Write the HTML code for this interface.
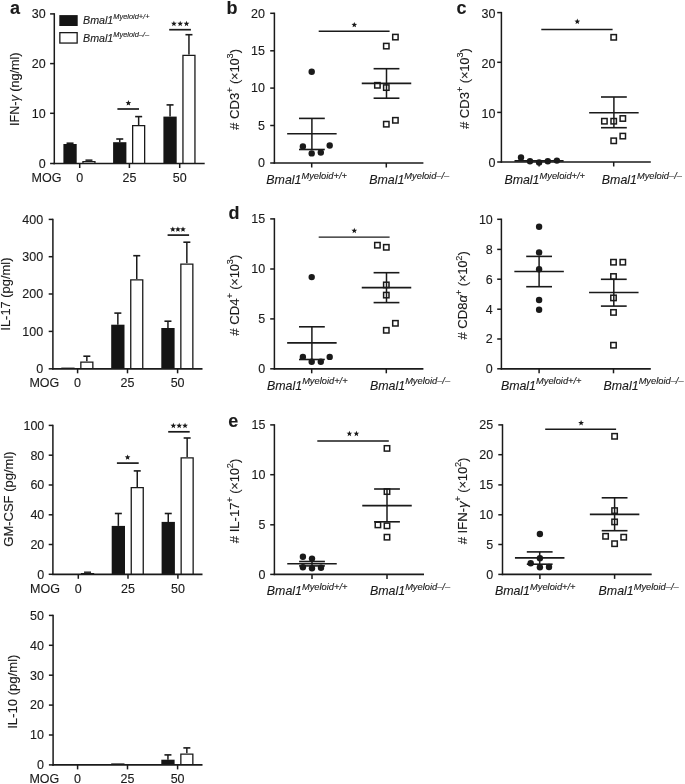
<!DOCTYPE html>
<html><head><meta charset="utf-8"><style>
html,body{margin:0;padding:0;background:#fff;}
body{width:685px;height:784px;overflow:hidden;}
svg{display:block;will-change:transform;}
text{font-family:"Liberation Sans",sans-serif;fill:#1a1a1a;stroke:#1a1a1a;stroke-width:0.12px;}
</style></head><body>
<svg width="685" height="784" viewBox="0 0 685 784">
<rect width="685" height="784" fill="#fff"/>
<g stroke="#1a1a1a" fill="none" stroke-linecap="butt">
<text x="10.10" y="13.90" font-size="18" text-anchor="start" font-weight="bold">a</text>
<line x1="70.05" y1="144.00" x2="70.05" y2="143.20" stroke-width="1.5"/>
<line x1="66.55" y1="143.20" x2="73.55" y2="143.20" stroke-width="1.6"/>
<rect x="63.40" y="144.00" width="13.30" height="19.50" fill="#151515" stroke="none"/>
<line x1="88.95" y1="160.90" x2="88.95" y2="160.20" stroke-width="1.5"/>
<line x1="85.45" y1="160.20" x2="92.45" y2="160.20" stroke-width="1.6"/>
<rect x="82.30" y="160.90" width="13.30" height="2.60" fill="#fff" stroke="none"/>
<path d="M82.95,163.50V161.55H94.95V163.50" fill="none" stroke="#1a1a1a" stroke-width="1.3"/>
<line x1="119.75" y1="142.20" x2="119.75" y2="139.00" stroke-width="1.5"/>
<line x1="116.25" y1="139.00" x2="123.25" y2="139.00" stroke-width="1.6"/>
<rect x="113.10" y="142.20" width="13.30" height="21.30" fill="#151515" stroke="none"/>
<line x1="138.65" y1="125.00" x2="138.65" y2="116.60" stroke-width="1.5"/>
<line x1="135.15" y1="116.60" x2="142.15" y2="116.60" stroke-width="1.6"/>
<rect x="132.00" y="125.00" width="13.30" height="38.50" fill="#fff" stroke="none"/>
<path d="M132.65,163.50V125.65H144.65V163.50" fill="none" stroke="#1a1a1a" stroke-width="1.3"/>
<line x1="170.05" y1="116.60" x2="170.05" y2="104.90" stroke-width="1.5"/>
<line x1="166.55" y1="104.90" x2="173.55" y2="104.90" stroke-width="1.6"/>
<rect x="163.40" y="116.60" width="13.30" height="46.90" fill="#151515" stroke="none"/>
<line x1="188.95" y1="54.80" x2="188.95" y2="34.70" stroke-width="1.5"/>
<line x1="185.45" y1="34.70" x2="192.45" y2="34.70" stroke-width="1.6"/>
<rect x="182.30" y="54.80" width="13.30" height="108.70" fill="#fff" stroke="none"/>
<path d="M182.95,163.50V55.45H194.95V163.50" fill="none" stroke="#1a1a1a" stroke-width="1.3"/>
<line x1="54.30" y1="13.20" x2="54.30" y2="164.25" stroke-width="1.5"/>
<line x1="50.10" y1="163.50" x2="54.30" y2="163.50" stroke-width="1.5"/>
<text x="45.70" y="167.85" font-size="12.5" text-anchor="end" >0</text>
<line x1="50.10" y1="113.30" x2="54.30" y2="113.30" stroke-width="1.5"/>
<text x="45.70" y="117.65" font-size="12.5" text-anchor="end" >10</text>
<line x1="50.10" y1="63.60" x2="54.30" y2="63.60" stroke-width="1.5"/>
<text x="45.70" y="67.95" font-size="12.5" text-anchor="end" >20</text>
<line x1="50.10" y1="13.90" x2="54.30" y2="13.90" stroke-width="1.5"/>
<text x="45.70" y="18.25" font-size="12.5" text-anchor="end" >30</text>
<line x1="53.60" y1="163.50" x2="204.70" y2="163.50" stroke-width="1.7"/>
<line x1="79.70" y1="163.50" x2="79.70" y2="168.00" stroke-width="1.5"/>
<line x1="129.40" y1="163.50" x2="129.40" y2="168.00" stroke-width="1.5"/>
<line x1="179.70" y1="163.50" x2="179.70" y2="168.00" stroke-width="1.5"/>
<text x="31.50" y="182.30" font-size="12.5" text-anchor="start" >MOG</text>
<text x="79.70" y="182.30" font-size="12.5" text-anchor="middle" >0</text>
<text x="129.40" y="182.30" font-size="12.5" text-anchor="middle" >25</text>
<text x="179.70" y="182.30" font-size="12.5" text-anchor="middle" >50</text>
<text x="19.40" y="89.30" font-size="12.6" text-anchor="middle" transform="rotate(-90 19.40 89.30)">IFN-<tspan font-style="italic">γ</tspan> (ng/ml)</text>
<line x1="117.40" y1="109.00" x2="139.00" y2="109.00" stroke-width="1.7"/>
<polygon points="128.40,100.10 129.16,102.05 131.25,102.17 129.64,103.50 130.16,105.53 128.40,104.40 126.64,105.53 127.16,103.50 125.55,102.17 127.64,102.05" fill="#1a1a1a" stroke="none"/>
<line x1="169.20" y1="29.70" x2="190.90" y2="29.70" stroke-width="1.7"/>
<polygon points="173.90,20.80 174.66,22.75 176.75,22.87 175.14,24.20 175.66,26.23 173.90,25.10 172.14,26.23 172.66,24.20 171.05,22.87 173.14,22.75" fill="#1a1a1a" stroke="none"/>
<polygon points="180.20,20.80 180.96,22.75 183.05,22.87 181.44,24.20 181.96,26.23 180.20,25.10 178.44,26.23 178.96,24.20 177.35,22.87 179.44,22.75" fill="#1a1a1a" stroke="none"/>
<polygon points="186.50,20.80 187.26,22.75 189.35,22.87 187.74,24.20 188.26,26.23 186.50,25.10 184.74,26.23 185.26,24.20 183.65,22.87 185.74,22.75" fill="#1a1a1a" stroke="none"/>
<rect x="59.3" y="15.1" width="18.4" height="10.9" fill="#151515" stroke="none"/>
<rect x="59.85" y="32.65" width="17.3" height="10.4" fill="#fff" stroke="#1a1a1a" stroke-width="1.3"/>
<text x="83" y="24.1" font-size="10.7" font-style="italic">Bmal1<tspan font-size="7.4" dy="-5">Myeloid+/+</tspan></text>
<text x="83" y="41.8" font-size="10.7" font-style="italic">Bmal1<tspan font-size="7.4" dy="-5">Myeloid–/–</tspan></text>
<rect x="61.30" y="367.60" width="13.30" height="1.20" fill="#151515" stroke="none"/>
<line x1="86.85" y1="361.50" x2="86.85" y2="356.20" stroke-width="1.5"/>
<line x1="83.35" y1="356.20" x2="90.35" y2="356.20" stroke-width="1.6"/>
<rect x="80.20" y="361.50" width="13.30" height="7.30" fill="#fff" stroke="none"/>
<path d="M80.85,368.80V362.15H92.85V368.80" fill="none" stroke="#1a1a1a" stroke-width="1.3"/>
<line x1="117.85" y1="324.70" x2="117.85" y2="313.10" stroke-width="1.5"/>
<line x1="114.35" y1="313.10" x2="121.35" y2="313.10" stroke-width="1.6"/>
<rect x="111.20" y="324.70" width="13.30" height="44.10" fill="#151515" stroke="none"/>
<line x1="136.75" y1="279.30" x2="136.75" y2="255.70" stroke-width="1.5"/>
<line x1="133.25" y1="255.70" x2="140.25" y2="255.70" stroke-width="1.6"/>
<rect x="130.10" y="279.30" width="13.30" height="89.50" fill="#fff" stroke="none"/>
<path d="M130.75,368.80V279.95H142.75V368.80" fill="none" stroke="#1a1a1a" stroke-width="1.3"/>
<line x1="167.95" y1="328.00" x2="167.95" y2="321.20" stroke-width="1.5"/>
<line x1="164.45" y1="321.20" x2="171.45" y2="321.20" stroke-width="1.6"/>
<rect x="161.30" y="328.00" width="13.30" height="40.80" fill="#151515" stroke="none"/>
<line x1="186.85" y1="263.40" x2="186.85" y2="242.20" stroke-width="1.5"/>
<line x1="183.35" y1="242.20" x2="190.35" y2="242.20" stroke-width="1.6"/>
<rect x="180.20" y="263.40" width="13.30" height="105.40" fill="#fff" stroke="none"/>
<path d="M180.85,368.80V264.05H192.85V368.80" fill="none" stroke="#1a1a1a" stroke-width="1.3"/>
<line x1="52.90" y1="218.70" x2="52.90" y2="369.55" stroke-width="1.5"/>
<line x1="48.70" y1="368.80" x2="52.90" y2="368.80" stroke-width="1.5"/>
<text x="43.10" y="373.15" font-size="12.5" text-anchor="end" >0</text>
<line x1="48.70" y1="331.40" x2="52.90" y2="331.40" stroke-width="1.5"/>
<text x="43.10" y="335.75" font-size="12.5" text-anchor="end" >100</text>
<line x1="48.70" y1="294.00" x2="52.90" y2="294.00" stroke-width="1.5"/>
<text x="43.10" y="298.35" font-size="12.5" text-anchor="end" >200</text>
<line x1="48.70" y1="256.70" x2="52.90" y2="256.70" stroke-width="1.5"/>
<text x="43.10" y="261.05" font-size="12.5" text-anchor="end" >300</text>
<line x1="48.70" y1="219.40" x2="52.90" y2="219.40" stroke-width="1.5"/>
<text x="43.10" y="223.75" font-size="12.5" text-anchor="end" >400</text>
<line x1="52.20" y1="368.80" x2="202.50" y2="368.80" stroke-width="1.7"/>
<line x1="77.60" y1="368.80" x2="77.60" y2="373.30" stroke-width="1.5"/>
<line x1="127.50" y1="368.80" x2="127.50" y2="373.30" stroke-width="1.5"/>
<line x1="177.60" y1="368.80" x2="177.60" y2="373.30" stroke-width="1.5"/>
<text x="29.40" y="387.20" font-size="12.5" text-anchor="start" >MOG</text>
<text x="77.60" y="387.20" font-size="12.5" text-anchor="middle" >0</text>
<text x="127.50" y="387.20" font-size="12.5" text-anchor="middle" >25</text>
<text x="177.60" y="387.20" font-size="12.5" text-anchor="middle" >50</text>
<text x="9.60" y="294.10" font-size="12.9" text-anchor="middle" transform="rotate(-90 9.60 294.10)">IL-17 (pg/ml)</text>
<line x1="167.60" y1="235.10" x2="189.10" y2="235.10" stroke-width="1.7"/>
<polygon points="172.80,226.40 173.56,228.35 175.65,228.47 174.04,229.80 174.56,231.83 172.80,230.70 171.04,231.83 171.56,229.80 169.95,228.47 172.04,228.35" fill="#1a1a1a" stroke="none"/>
<polygon points="177.90,226.40 178.66,228.35 180.75,228.47 179.14,229.80 179.66,231.83 177.90,230.70 176.14,231.83 176.66,229.80 175.05,228.47 177.14,228.35" fill="#1a1a1a" stroke="none"/>
<polygon points="183.00,226.40 183.76,228.35 185.85,228.47 184.24,229.80 184.76,231.83 183.00,230.70 181.24,231.83 181.76,229.80 180.15,228.47 182.24,228.35" fill="#1a1a1a" stroke="none"/>
<line x1="87.55" y1="572.90" x2="87.55" y2="572.30" stroke-width="1.5"/>
<line x1="84.05" y1="572.30" x2="91.05" y2="572.30" stroke-width="1.6"/>
<rect x="80.90" y="572.90" width="13.30" height="1.40" fill="#fff" stroke="none"/>
<path d="M81.55,574.30V573.55H93.55V574.30" fill="none" stroke="#1a1a1a" stroke-width="1.3"/>
<line x1="118.35" y1="525.90" x2="118.35" y2="513.50" stroke-width="1.5"/>
<line x1="114.85" y1="513.50" x2="121.85" y2="513.50" stroke-width="1.6"/>
<rect x="111.70" y="525.90" width="13.30" height="48.40" fill="#151515" stroke="none"/>
<line x1="137.25" y1="487.00" x2="137.25" y2="470.90" stroke-width="1.5"/>
<line x1="133.75" y1="470.90" x2="140.75" y2="470.90" stroke-width="1.6"/>
<rect x="130.60" y="487.00" width="13.30" height="87.30" fill="#fff" stroke="none"/>
<path d="M131.25,574.30V487.65H143.25V574.30" fill="none" stroke="#1a1a1a" stroke-width="1.3"/>
<line x1="168.25" y1="521.90" x2="168.25" y2="513.50" stroke-width="1.5"/>
<line x1="164.75" y1="513.50" x2="171.75" y2="513.50" stroke-width="1.6"/>
<rect x="161.60" y="521.90" width="13.30" height="52.40" fill="#151515" stroke="none"/>
<line x1="187.15" y1="457.30" x2="187.15" y2="438.00" stroke-width="1.5"/>
<line x1="183.65" y1="438.00" x2="190.65" y2="438.00" stroke-width="1.6"/>
<rect x="180.50" y="457.30" width="13.30" height="117.00" fill="#fff" stroke="none"/>
<path d="M181.15,574.30V457.95H193.15V574.30" fill="none" stroke="#1a1a1a" stroke-width="1.3"/>
<line x1="52.90" y1="424.70" x2="52.90" y2="575.05" stroke-width="1.5"/>
<line x1="48.70" y1="574.30" x2="52.90" y2="574.30" stroke-width="1.5"/>
<text x="44.30" y="578.65" font-size="12.5" text-anchor="end" >0</text>
<line x1="48.70" y1="544.50" x2="52.90" y2="544.50" stroke-width="1.5"/>
<text x="44.30" y="548.85" font-size="12.5" text-anchor="end" >20</text>
<line x1="48.70" y1="514.80" x2="52.90" y2="514.80" stroke-width="1.5"/>
<text x="44.30" y="519.15" font-size="12.5" text-anchor="end" >40</text>
<line x1="48.70" y1="485.00" x2="52.90" y2="485.00" stroke-width="1.5"/>
<text x="44.30" y="489.35" font-size="12.5" text-anchor="end" >60</text>
<line x1="48.70" y1="455.20" x2="52.90" y2="455.20" stroke-width="1.5"/>
<text x="44.30" y="459.55" font-size="12.5" text-anchor="end" >80</text>
<line x1="48.70" y1="425.40" x2="52.90" y2="425.40" stroke-width="1.5"/>
<text x="44.30" y="429.75" font-size="12.5" text-anchor="end" >100</text>
<line x1="52.20" y1="574.30" x2="202.50" y2="574.30" stroke-width="1.7"/>
<line x1="78.30" y1="574.30" x2="78.30" y2="578.80" stroke-width="1.5"/>
<line x1="128.00" y1="574.30" x2="128.00" y2="578.80" stroke-width="1.5"/>
<line x1="177.90" y1="574.30" x2="177.90" y2="578.80" stroke-width="1.5"/>
<text x="30.10" y="593.40" font-size="12.5" text-anchor="start" >MOG</text>
<text x="78.30" y="593.40" font-size="12.5" text-anchor="middle" >0</text>
<text x="128.00" y="593.40" font-size="12.5" text-anchor="middle" >25</text>
<text x="177.90" y="593.40" font-size="12.5" text-anchor="middle" >50</text>
<text x="12.70" y="499.05" font-size="13.0" text-anchor="middle" transform="rotate(-90 12.70 499.05)">GM-CSF (pg/ml)</text>
<line x1="116.90" y1="463.10" x2="138.70" y2="463.10" stroke-width="1.7"/>
<polygon points="127.60,454.40 128.36,456.35 130.45,456.47 128.84,457.80 129.36,459.83 127.60,458.70 125.84,459.83 126.36,457.80 124.75,456.47 126.84,456.35" fill="#1a1a1a" stroke="none"/>
<line x1="168.20" y1="431.80" x2="189.70" y2="431.80" stroke-width="1.7"/>
<polygon points="173.35,422.80 174.11,424.75 176.20,424.87 174.59,426.20 175.11,428.23 173.35,427.10 171.59,428.23 172.11,426.20 170.50,424.87 172.59,424.75" fill="#1a1a1a" stroke="none"/>
<polygon points="179.20,422.80 179.96,424.75 182.05,424.87 180.44,426.20 180.96,428.23 179.20,427.10 177.44,428.23 177.96,426.20 176.35,424.87 178.44,424.75" fill="#1a1a1a" stroke="none"/>
<polygon points="185.05,422.80 185.81,424.75 187.90,424.87 186.29,426.20 186.81,428.23 185.05,427.10 183.29,428.23 183.81,426.20 182.20,424.87 184.29,424.75" fill="#1a1a1a" stroke="none"/>
<rect x="111.20" y="763.40" width="13.30" height="1.50" fill="#151515" stroke="none"/>
<line x1="167.95" y1="759.70" x2="167.95" y2="754.90" stroke-width="1.5"/>
<line x1="164.45" y1="754.90" x2="171.45" y2="754.90" stroke-width="1.6"/>
<rect x="161.30" y="759.70" width="13.30" height="5.20" fill="#151515" stroke="none"/>
<line x1="186.85" y1="753.40" x2="186.85" y2="747.90" stroke-width="1.5"/>
<line x1="183.35" y1="747.90" x2="190.35" y2="747.90" stroke-width="1.6"/>
<rect x="180.20" y="753.40" width="13.30" height="11.50" fill="#fff" stroke="none"/>
<path d="M180.85,764.90V754.05H192.85V764.90" fill="none" stroke="#1a1a1a" stroke-width="1.3"/>
<line x1="53.10" y1="614.70" x2="53.10" y2="765.65" stroke-width="1.5"/>
<line x1="48.90" y1="764.90" x2="53.10" y2="764.90" stroke-width="1.5"/>
<text x="43.90" y="769.25" font-size="12.5" text-anchor="end" >0</text>
<line x1="48.90" y1="735.00" x2="53.10" y2="735.00" stroke-width="1.5"/>
<text x="43.90" y="739.35" font-size="12.5" text-anchor="end" >10</text>
<line x1="48.90" y1="705.10" x2="53.10" y2="705.10" stroke-width="1.5"/>
<text x="43.90" y="709.45" font-size="12.5" text-anchor="end" >20</text>
<line x1="48.90" y1="675.20" x2="53.10" y2="675.20" stroke-width="1.5"/>
<text x="43.90" y="679.55" font-size="12.5" text-anchor="end" >30</text>
<line x1="48.90" y1="645.30" x2="53.10" y2="645.30" stroke-width="1.5"/>
<text x="43.90" y="649.65" font-size="12.5" text-anchor="end" >40</text>
<line x1="48.90" y1="615.40" x2="53.10" y2="615.40" stroke-width="1.5"/>
<text x="43.90" y="619.75" font-size="12.5" text-anchor="end" >50</text>
<line x1="52.40" y1="764.90" x2="202.50" y2="764.90" stroke-width="1.7"/>
<line x1="77.60" y1="764.90" x2="77.60" y2="769.40" stroke-width="1.5"/>
<line x1="127.50" y1="764.90" x2="127.50" y2="769.40" stroke-width="1.5"/>
<line x1="177.60" y1="764.90" x2="177.60" y2="769.40" stroke-width="1.5"/>
<text x="29.40" y="782.60" font-size="12.5" text-anchor="start" >MOG</text>
<text x="77.60" y="782.60" font-size="12.5" text-anchor="middle" >0</text>
<text x="127.50" y="782.60" font-size="12.5" text-anchor="middle" >25</text>
<text x="177.60" y="782.60" font-size="12.5" text-anchor="middle" >50</text>
<text x="17.10" y="691.65" font-size="13.1" text-anchor="middle" transform="rotate(-90 17.10 691.65)">IL-10 (pg/ml)</text>
<text x="226.50" y="14.00" font-size="18" text-anchor="start" font-weight="bold">b</text>
<line x1="274.40" y1="12.60" x2="274.40" y2="163.75" stroke-width="1.5"/>
<line x1="270.20" y1="163.00" x2="274.40" y2="163.00" stroke-width="1.5"/>
<text x="265.00" y="167.35" font-size="12.5" text-anchor="end" >0</text>
<line x1="270.20" y1="125.50" x2="274.40" y2="125.50" stroke-width="1.5"/>
<text x="265.00" y="129.85" font-size="12.5" text-anchor="end" >5</text>
<line x1="270.20" y1="88.10" x2="274.40" y2="88.10" stroke-width="1.5"/>
<text x="265.00" y="92.45" font-size="12.5" text-anchor="end" >10</text>
<line x1="270.20" y1="50.80" x2="274.40" y2="50.80" stroke-width="1.5"/>
<text x="265.00" y="55.15" font-size="12.5" text-anchor="end" >15</text>
<line x1="270.20" y1="13.30" x2="274.40" y2="13.30" stroke-width="1.5"/>
<text x="265.00" y="17.65" font-size="12.5" text-anchor="end" >20</text>
<line x1="273.70" y1="163.00" x2="423.40" y2="163.00" stroke-width="1.7"/>
<line x1="311.70" y1="163.00" x2="311.70" y2="167.50" stroke-width="1.5"/>
<line x1="386.30" y1="163.00" x2="386.30" y2="167.50" stroke-width="1.5"/>
<text x="239.10" y="89.45" font-size="13.1" text-anchor="middle" transform="rotate(-90 239.10 89.45)"># CD3<tspan font-size="9.2" dy="-5.6">+</tspan><tspan dy="5.6" letter-spacing="-0.25"> (×10</tspan><tspan font-size="9.2" dy="-5.6">3</tspan><tspan dy="5.6">)</tspan></text>
<text x="266.30" y="184.30" font-size="12.4" font-style="italic">Bmal1<tspan font-size="9.3" dy="-5.3">Myeloid+/+</tspan></text>
<text x="369.20" y="184.30" font-size="12.4" font-style="italic">Bmal1<tspan font-size="9.3" dy="-5.3">Myeloid–/–</tspan></text>
<line x1="287.15" y1="133.80" x2="336.65" y2="133.80" stroke-width="1.6"/>
<line x1="299.00" y1="118.40" x2="324.80" y2="118.40" stroke-width="1.6"/>
<line x1="299.00" y1="149.50" x2="324.80" y2="149.50" stroke-width="1.6"/>
<line x1="311.90" y1="118.40" x2="311.90" y2="149.50" stroke-width="1.5"/>
<circle cx="311.70" cy="71.80" r="3.2" fill="#1a1a1a" stroke="none"/>
<circle cx="302.90" cy="146.40" r="3.2" fill="#1a1a1a" stroke="none"/>
<circle cx="311.70" cy="153.40" r="3.2" fill="#1a1a1a" stroke="none"/>
<circle cx="320.80" cy="152.50" r="3.2" fill="#1a1a1a" stroke="none"/>
<circle cx="329.70" cy="145.50" r="3.2" fill="#1a1a1a" stroke="none"/>
<line x1="361.75" y1="83.40" x2="411.25" y2="83.40" stroke-width="1.6"/>
<line x1="373.60" y1="68.70" x2="399.40" y2="68.70" stroke-width="1.6"/>
<line x1="373.60" y1="98.20" x2="399.40" y2="98.20" stroke-width="1.6"/>
<line x1="386.50" y1="68.70" x2="386.50" y2="98.20" stroke-width="1.5"/>
<rect x="392.70" y="34.40" width="5.4" height="5.4" fill="none" stroke="#1a1a1a" stroke-width="1.5"/>
<rect x="383.60" y="43.40" width="5.4" height="5.4" fill="none" stroke="#1a1a1a" stroke-width="1.5"/>
<rect x="374.70" y="82.60" width="5.4" height="5.4" fill="none" stroke="#1a1a1a" stroke-width="1.5"/>
<rect x="383.60" y="84.90" width="5.4" height="5.4" fill="none" stroke="#1a1a1a" stroke-width="1.5"/>
<rect x="383.60" y="121.50" width="5.4" height="5.4" fill="none" stroke="#1a1a1a" stroke-width="1.5"/>
<rect x="392.70" y="117.60" width="5.4" height="5.4" fill="none" stroke="#1a1a1a" stroke-width="1.5"/>
<line x1="318.70" y1="31.20" x2="389.60" y2="31.20" stroke-width="1.45"/>
<polygon points="354.30,21.90 355.06,23.85 357.15,23.97 355.54,25.30 356.06,27.33 354.30,26.20 352.54,27.33 353.06,25.30 351.45,23.97 353.54,23.85" fill="#1a1a1a" stroke="none"/>
<text x="456.60" y="13.70" font-size="18" text-anchor="start" font-weight="bold">c</text>
<line x1="501.40" y1="11.90" x2="501.40" y2="162.75" stroke-width="1.5"/>
<line x1="497.20" y1="162.00" x2="501.40" y2="162.00" stroke-width="1.5"/>
<text x="495.40" y="167.35" font-size="12.5" text-anchor="end" >0</text>
<line x1="497.20" y1="112.40" x2="501.40" y2="112.40" stroke-width="1.5"/>
<text x="495.40" y="117.75" font-size="12.5" text-anchor="end" >10</text>
<line x1="497.20" y1="62.30" x2="501.40" y2="62.30" stroke-width="1.5"/>
<text x="495.40" y="67.65" font-size="12.5" text-anchor="end" >20</text>
<line x1="497.20" y1="12.60" x2="501.40" y2="12.60" stroke-width="1.5"/>
<text x="495.40" y="17.95" font-size="12.5" text-anchor="end" >30</text>
<line x1="500.70" y1="162.00" x2="650.80" y2="162.00" stroke-width="1.7"/>
<line x1="539.10" y1="162.00" x2="539.10" y2="166.50" stroke-width="1.5"/>
<line x1="613.70" y1="162.00" x2="613.70" y2="166.50" stroke-width="1.5"/>
<text x="468.60" y="88.60" font-size="13.1" text-anchor="middle" transform="rotate(-90 468.60 88.60)"># CD3<tspan font-size="9.2" dy="-5.6">+</tspan><tspan dy="5.6" letter-spacing="-0.25"> (×10</tspan><tspan font-size="9.2" dy="-5.6">3</tspan><tspan dy="5.6">)</tspan></text>
<text x="504.40" y="184.30" font-size="12.4" font-style="italic">Bmal1<tspan font-size="9.3" dy="-5.3">Myeloid+/+</tspan></text>
<text x="601.80" y="184.30" font-size="12.4" font-style="italic">Bmal1<tspan font-size="9.3" dy="-5.3">Myeloid–/–</tspan></text>
<circle cx="521.00" cy="157.40" r="3.2" fill="#1a1a1a" stroke="none"/>
<circle cx="530.00" cy="161.30" r="3.2" fill="#1a1a1a" stroke="none"/>
<circle cx="539.10" cy="162.40" r="3.2" fill="#1a1a1a" stroke="none"/>
<circle cx="547.80" cy="161.30" r="3.2" fill="#1a1a1a" stroke="none"/>
<circle cx="556.90" cy="160.60" r="3.2" fill="#1a1a1a" stroke="none"/>
<line x1="514.50" y1="160.90" x2="563.60" y2="160.90" stroke-width="1.6"/>
<line x1="589.15" y1="112.80" x2="638.65" y2="112.80" stroke-width="1.6"/>
<line x1="601.00" y1="97.00" x2="626.80" y2="97.00" stroke-width="1.6"/>
<line x1="601.00" y1="127.70" x2="626.80" y2="127.70" stroke-width="1.6"/>
<line x1="613.90" y1="97.00" x2="613.90" y2="127.70" stroke-width="1.5"/>
<rect x="611.00" y="34.60" width="5.4" height="5.4" fill="none" stroke="#1a1a1a" stroke-width="1.5"/>
<rect x="601.70" y="118.50" width="5.4" height="5.4" fill="none" stroke="#1a1a1a" stroke-width="1.5"/>
<rect x="611.00" y="118.50" width="5.4" height="5.4" fill="none" stroke="#1a1a1a" stroke-width="1.5"/>
<rect x="620.10" y="115.80" width="5.4" height="5.4" fill="none" stroke="#1a1a1a" stroke-width="1.5"/>
<rect x="611.00" y="138.10" width="5.4" height="5.4" fill="none" stroke="#1a1a1a" stroke-width="1.5"/>
<rect x="620.10" y="133.40" width="5.4" height="5.4" fill="none" stroke="#1a1a1a" stroke-width="1.5"/>
<line x1="541.30" y1="29.40" x2="612.60" y2="29.40" stroke-width="1.45"/>
<polygon points="577.30,18.60 578.06,20.55 580.15,20.67 578.54,22.00 579.06,24.03 577.30,22.90 575.54,24.03 576.06,22.00 574.45,20.67 576.54,20.55" fill="#1a1a1a" stroke="none"/>
<text x="228.50" y="218.70" font-size="18" text-anchor="start" font-weight="bold">d</text>
<line x1="274.40" y1="218.20" x2="274.40" y2="369.55" stroke-width="1.5"/>
<line x1="270.20" y1="368.80" x2="274.40" y2="368.80" stroke-width="1.5"/>
<text x="265.10" y="373.15" font-size="12.5" text-anchor="end" >0</text>
<line x1="270.20" y1="318.90" x2="274.40" y2="318.90" stroke-width="1.5"/>
<text x="265.10" y="323.25" font-size="12.5" text-anchor="end" >5</text>
<line x1="270.20" y1="269.00" x2="274.40" y2="269.00" stroke-width="1.5"/>
<text x="265.10" y="273.35" font-size="12.5" text-anchor="end" >10</text>
<line x1="270.20" y1="218.90" x2="274.40" y2="218.90" stroke-width="1.5"/>
<text x="265.10" y="223.25" font-size="12.5" text-anchor="end" >15</text>
<line x1="273.70" y1="368.80" x2="423.40" y2="368.80" stroke-width="1.7"/>
<line x1="311.70" y1="368.80" x2="311.70" y2="373.30" stroke-width="1.5"/>
<line x1="386.30" y1="368.80" x2="386.30" y2="373.30" stroke-width="1.5"/>
<text x="239.10" y="295.15" font-size="13.1" text-anchor="middle" transform="rotate(-90 239.10 295.15)"># CD4<tspan font-size="9.2" dy="-5.6">+</tspan><tspan dy="5.6" letter-spacing="-0.25"> (×10</tspan><tspan font-size="9.2" dy="-5.6">3</tspan><tspan dy="5.6">)</tspan></text>
<text x="267.00" y="389.60" font-size="12.4" font-style="italic">Bmal1<tspan font-size="9.3" dy="-5.3">Myeloid+/+</tspan></text>
<text x="370.00" y="389.60" font-size="12.4" font-style="italic">Bmal1<tspan font-size="9.3" dy="-5.3">Myeloid–/–</tspan></text>
<line x1="287.15" y1="342.90" x2="336.65" y2="342.90" stroke-width="1.6"/>
<line x1="299.00" y1="326.80" x2="324.80" y2="326.80" stroke-width="1.6"/>
<line x1="299.00" y1="359.50" x2="324.80" y2="359.50" stroke-width="1.6"/>
<line x1="311.90" y1="326.80" x2="311.90" y2="359.50" stroke-width="1.5"/>
<circle cx="311.70" cy="277.10" r="3.2" fill="#1a1a1a" stroke="none"/>
<circle cx="302.90" cy="356.90" r="3.2" fill="#1a1a1a" stroke="none"/>
<circle cx="311.70" cy="361.80" r="3.2" fill="#1a1a1a" stroke="none"/>
<circle cx="320.80" cy="361.80" r="3.2" fill="#1a1a1a" stroke="none"/>
<circle cx="329.70" cy="356.90" r="3.2" fill="#1a1a1a" stroke="none"/>
<line x1="361.75" y1="287.60" x2="411.25" y2="287.60" stroke-width="1.6"/>
<line x1="373.60" y1="272.70" x2="399.40" y2="272.70" stroke-width="1.6"/>
<line x1="373.60" y1="302.60" x2="399.40" y2="302.60" stroke-width="1.6"/>
<line x1="386.50" y1="272.70" x2="386.50" y2="302.60" stroke-width="1.5"/>
<rect x="374.70" y="242.50" width="5.4" height="5.4" fill="none" stroke="#1a1a1a" stroke-width="1.5"/>
<rect x="383.60" y="244.60" width="5.4" height="5.4" fill="none" stroke="#1a1a1a" stroke-width="1.5"/>
<rect x="383.60" y="282.20" width="5.4" height="5.4" fill="none" stroke="#1a1a1a" stroke-width="1.5"/>
<rect x="383.60" y="292.40" width="5.4" height="5.4" fill="none" stroke="#1a1a1a" stroke-width="1.5"/>
<rect x="383.60" y="327.60" width="5.4" height="5.4" fill="none" stroke="#1a1a1a" stroke-width="1.5"/>
<rect x="392.70" y="320.60" width="5.4" height="5.4" fill="none" stroke="#1a1a1a" stroke-width="1.5"/>
<line x1="318.70" y1="237.10" x2="389.60" y2="237.10" stroke-width="1.45"/>
<polygon points="354.30,227.80 355.06,229.75 357.15,229.87 355.54,231.20 356.06,233.23 354.30,232.10 352.54,233.23 353.06,231.20 351.45,229.87 353.54,229.75" fill="#1a1a1a" stroke="none"/>
<line x1="501.40" y1="218.60" x2="501.40" y2="369.55" stroke-width="1.5"/>
<line x1="497.20" y1="368.80" x2="501.40" y2="368.80" stroke-width="1.5"/>
<text x="492.80" y="373.15" font-size="12.5" text-anchor="end" >0</text>
<line x1="497.20" y1="339.00" x2="501.40" y2="339.00" stroke-width="1.5"/>
<text x="492.80" y="343.35" font-size="12.5" text-anchor="end" >2</text>
<line x1="497.20" y1="309.20" x2="501.40" y2="309.20" stroke-width="1.5"/>
<text x="492.80" y="313.55" font-size="12.5" text-anchor="end" >4</text>
<line x1="497.20" y1="279.20" x2="501.40" y2="279.20" stroke-width="1.5"/>
<text x="492.80" y="283.55" font-size="12.5" text-anchor="end" >6</text>
<line x1="497.20" y1="249.40" x2="501.40" y2="249.40" stroke-width="1.5"/>
<text x="492.80" y="253.75" font-size="12.5" text-anchor="end" >8</text>
<line x1="497.20" y1="219.30" x2="501.40" y2="219.30" stroke-width="1.5"/>
<text x="492.80" y="223.65" font-size="12.5" text-anchor="end" >10</text>
<line x1="500.70" y1="368.80" x2="650.80" y2="368.80" stroke-width="1.7"/>
<line x1="539.10" y1="368.80" x2="539.10" y2="373.30" stroke-width="1.5"/>
<line x1="613.50" y1="368.80" x2="613.50" y2="373.30" stroke-width="1.5"/>
<text x="467.10" y="295.35" font-size="13.1" text-anchor="middle" transform="rotate(-90 467.10 295.35)"># CD8<tspan font-style="italic">α</tspan><tspan font-size="9.2" dy="-5.6">+</tspan><tspan dy="5.6" letter-spacing="-0.25"> (×10</tspan><tspan font-size="9.2" dy="-5.6">2</tspan><tspan dy="5.6">)</tspan></text>
<text x="500.90" y="389.60" font-size="12.4" font-style="italic">Bmal1<tspan font-size="9.3" dy="-5.3">Myeloid+/+</tspan></text>
<text x="603.50" y="389.60" font-size="12.4" font-style="italic">Bmal1<tspan font-size="9.3" dy="-5.3">Myeloid–/–</tspan></text>
<line x1="514.35" y1="271.50" x2="563.85" y2="271.50" stroke-width="1.6"/>
<line x1="526.20" y1="256.40" x2="552.00" y2="256.40" stroke-width="1.6"/>
<line x1="526.20" y1="286.70" x2="552.00" y2="286.70" stroke-width="1.6"/>
<line x1="539.10" y1="256.40" x2="539.10" y2="286.70" stroke-width="1.5"/>
<circle cx="539.10" cy="226.80" r="3.2" fill="#1a1a1a" stroke="none"/>
<circle cx="539.10" cy="252.50" r="3.2" fill="#1a1a1a" stroke="none"/>
<circle cx="539.10" cy="269.20" r="3.2" fill="#1a1a1a" stroke="none"/>
<circle cx="539.10" cy="300.00" r="3.2" fill="#1a1a1a" stroke="none"/>
<circle cx="539.10" cy="309.80" r="3.2" fill="#1a1a1a" stroke="none"/>
<line x1="589.05" y1="292.50" x2="638.55" y2="292.50" stroke-width="1.6"/>
<line x1="600.90" y1="279.30" x2="626.70" y2="279.30" stroke-width="1.6"/>
<line x1="600.90" y1="306.10" x2="626.70" y2="306.10" stroke-width="1.6"/>
<line x1="613.80" y1="279.30" x2="613.80" y2="306.10" stroke-width="1.5"/>
<rect x="610.80" y="259.50" width="5.4" height="5.4" fill="none" stroke="#1a1a1a" stroke-width="1.5"/>
<rect x="620.10" y="259.50" width="5.4" height="5.4" fill="none" stroke="#1a1a1a" stroke-width="1.5"/>
<rect x="610.80" y="273.80" width="5.4" height="5.4" fill="none" stroke="#1a1a1a" stroke-width="1.5"/>
<rect x="610.80" y="295.20" width="5.4" height="5.4" fill="none" stroke="#1a1a1a" stroke-width="1.5"/>
<rect x="610.80" y="309.70" width="5.4" height="5.4" fill="none" stroke="#1a1a1a" stroke-width="1.5"/>
<rect x="610.80" y="342.50" width="5.4" height="5.4" fill="none" stroke="#1a1a1a" stroke-width="1.5"/>
<text x="228.20" y="426.60" font-size="18" text-anchor="start" font-weight="bold">e</text>
<line x1="274.40" y1="424.20" x2="274.40" y2="575.15" stroke-width="1.5"/>
<line x1="270.20" y1="574.40" x2="274.40" y2="574.40" stroke-width="1.5"/>
<text x="265.40" y="578.75" font-size="12.5" text-anchor="end" >0</text>
<line x1="270.20" y1="524.80" x2="274.40" y2="524.80" stroke-width="1.5"/>
<text x="265.40" y="529.15" font-size="12.5" text-anchor="end" >5</text>
<line x1="270.20" y1="474.70" x2="274.40" y2="474.70" stroke-width="1.5"/>
<text x="265.40" y="479.05" font-size="12.5" text-anchor="end" >10</text>
<line x1="270.20" y1="424.90" x2="274.40" y2="424.90" stroke-width="1.5"/>
<text x="265.40" y="429.25" font-size="12.5" text-anchor="end" >15</text>
<line x1="273.70" y1="574.40" x2="424.00" y2="574.40" stroke-width="1.7"/>
<line x1="312.00" y1="574.40" x2="312.00" y2="578.90" stroke-width="1.5"/>
<line x1="387.00" y1="574.40" x2="387.00" y2="578.90" stroke-width="1.5"/>
<text x="239.10" y="500.95" font-size="13.1" text-anchor="middle" transform="rotate(-90 239.10 500.95)"># IL-17<tspan font-size="9.2" dy="-5.6">+</tspan><tspan dy="5.6" letter-spacing="-0.25"> (×10</tspan><tspan font-size="9.2" dy="-5.6">2</tspan><tspan dy="5.6">)</tspan></text>
<text x="266.80" y="595.40" font-size="12.4" font-style="italic">Bmal1<tspan font-size="9.3" dy="-5.3">Myeloid+/+</tspan></text>
<text x="370.00" y="595.40" font-size="12.4" font-style="italic">Bmal1<tspan font-size="9.3" dy="-5.3">Myeloid–/–</tspan></text>
<line x1="287.25" y1="563.80" x2="336.75" y2="563.80" stroke-width="1.6"/>
<line x1="299.10" y1="561.50" x2="324.90" y2="561.50" stroke-width="1.6"/>
<line x1="299.10" y1="565.90" x2="324.90" y2="565.90" stroke-width="1.6"/>
<line x1="312.00" y1="561.50" x2="312.00" y2="565.90" stroke-width="1.5"/>
<circle cx="302.90" cy="556.80" r="3.2" fill="#1a1a1a" stroke="none"/>
<circle cx="312.00" cy="558.60" r="3.2" fill="#1a1a1a" stroke="none"/>
<circle cx="302.90" cy="567.30" r="3.2" fill="#1a1a1a" stroke="none"/>
<circle cx="312.00" cy="568.20" r="3.2" fill="#1a1a1a" stroke="none"/>
<circle cx="321.00" cy="567.70" r="3.2" fill="#1a1a1a" stroke="none"/>
<line x1="362.25" y1="505.60" x2="411.75" y2="505.60" stroke-width="1.6"/>
<line x1="374.10" y1="489.00" x2="399.90" y2="489.00" stroke-width="1.6"/>
<line x1="374.10" y1="521.80" x2="399.90" y2="521.80" stroke-width="1.6"/>
<line x1="387.00" y1="489.00" x2="387.00" y2="521.80" stroke-width="1.5"/>
<rect x="384.30" y="445.70" width="5.4" height="5.4" fill="none" stroke="#1a1a1a" stroke-width="1.5"/>
<rect x="384.30" y="488.90" width="5.4" height="5.4" fill="none" stroke="#1a1a1a" stroke-width="1.5"/>
<rect x="375.20" y="522.20" width="5.4" height="5.4" fill="none" stroke="#1a1a1a" stroke-width="1.5"/>
<rect x="384.30" y="523.10" width="5.4" height="5.4" fill="none" stroke="#1a1a1a" stroke-width="1.5"/>
<rect x="384.30" y="534.50" width="5.4" height="5.4" fill="none" stroke="#1a1a1a" stroke-width="1.5"/>
<line x1="317.30" y1="441.00" x2="388.80" y2="441.00" stroke-width="1.45"/>
<polygon points="349.40,430.70 350.16,432.65 352.25,432.77 350.64,434.10 351.16,436.13 349.40,435.00 347.64,436.13 348.16,434.10 346.55,432.77 348.64,432.65" fill="#1a1a1a" stroke="none"/>
<polygon points="356.40,430.70 357.16,432.65 359.25,432.77 357.64,434.10 358.16,436.13 356.40,435.00 354.64,436.13 355.16,434.10 353.55,432.77 355.64,432.65" fill="#1a1a1a" stroke="none"/>
<line x1="502.50" y1="424.20" x2="502.50" y2="575.15" stroke-width="1.5"/>
<line x1="498.30" y1="574.40" x2="502.50" y2="574.40" stroke-width="1.5"/>
<text x="493.10" y="578.75" font-size="12.5" text-anchor="end" >0</text>
<line x1="498.30" y1="544.50" x2="502.50" y2="544.50" stroke-width="1.5"/>
<text x="493.10" y="548.85" font-size="12.5" text-anchor="end" >5</text>
<line x1="498.30" y1="514.80" x2="502.50" y2="514.80" stroke-width="1.5"/>
<text x="493.10" y="519.15" font-size="12.5" text-anchor="end" >10</text>
<line x1="498.30" y1="484.90" x2="502.50" y2="484.90" stroke-width="1.5"/>
<text x="493.10" y="489.25" font-size="12.5" text-anchor="end" >15</text>
<line x1="498.30" y1="454.70" x2="502.50" y2="454.70" stroke-width="1.5"/>
<text x="493.10" y="459.05" font-size="12.5" text-anchor="end" >20</text>
<line x1="498.30" y1="424.90" x2="502.50" y2="424.90" stroke-width="1.5"/>
<text x="493.10" y="429.25" font-size="12.5" text-anchor="end" >25</text>
<line x1="501.80" y1="574.40" x2="651.70" y2="574.40" stroke-width="1.7"/>
<line x1="539.90" y1="574.40" x2="539.90" y2="578.90" stroke-width="1.5"/>
<line x1="614.60" y1="574.40" x2="614.60" y2="578.90" stroke-width="1.5"/>
<text x="467.10" y="500.95" font-size="13.1" text-anchor="middle" transform="rotate(-90 467.10 500.95)"># IFN-<tspan font-style="italic">γ</tspan><tspan font-size="9.2" dy="-5.6">+</tspan><tspan dy="5.6" letter-spacing="-0.25"> (×10</tspan><tspan font-size="9.2" dy="-5.6">2</tspan><tspan dy="5.6">)</tspan></text>
<text x="494.90" y="595.40" font-size="12.4" font-style="italic">Bmal1<tspan font-size="9.3" dy="-5.3">Myeloid+/+</tspan></text>
<text x="598.60" y="595.40" font-size="12.4" font-style="italic">Bmal1<tspan font-size="9.3" dy="-5.3">Myeloid–/–</tspan></text>
<line x1="514.95" y1="557.90" x2="564.45" y2="557.90" stroke-width="1.6"/>
<line x1="526.80" y1="551.90" x2="552.60" y2="551.90" stroke-width="1.6"/>
<line x1="526.80" y1="564.20" x2="552.60" y2="564.20" stroke-width="1.6"/>
<line x1="539.70" y1="551.90" x2="539.70" y2="564.20" stroke-width="1.5"/>
<circle cx="539.90" cy="534.00" r="3.2" fill="#1a1a1a" stroke="none"/>
<circle cx="539.90" cy="558.20" r="3.2" fill="#1a1a1a" stroke="none"/>
<circle cx="530.70" cy="563.30" r="3.2" fill="#1a1a1a" stroke="none"/>
<circle cx="539.90" cy="567.30" r="3.2" fill="#1a1a1a" stroke="none"/>
<circle cx="549.00" cy="567.00" r="3.2" fill="#1a1a1a" stroke="none"/>
<line x1="589.85" y1="514.40" x2="639.35" y2="514.40" stroke-width="1.6"/>
<line x1="601.70" y1="497.80" x2="627.50" y2="497.80" stroke-width="1.6"/>
<line x1="601.70" y1="530.70" x2="627.50" y2="530.70" stroke-width="1.6"/>
<line x1="614.60" y1="497.80" x2="614.60" y2="530.70" stroke-width="1.5"/>
<rect x="611.90" y="433.60" width="5.4" height="5.4" fill="none" stroke="#1a1a1a" stroke-width="1.5"/>
<rect x="611.90" y="507.90" width="5.4" height="5.4" fill="none" stroke="#1a1a1a" stroke-width="1.5"/>
<rect x="611.90" y="519.20" width="5.4" height="5.4" fill="none" stroke="#1a1a1a" stroke-width="1.5"/>
<rect x="602.90" y="533.60" width="5.4" height="5.4" fill="none" stroke="#1a1a1a" stroke-width="1.5"/>
<rect x="621.00" y="534.50" width="5.4" height="5.4" fill="none" stroke="#1a1a1a" stroke-width="1.5"/>
<rect x="611.90" y="541.00" width="5.4" height="5.4" fill="none" stroke="#1a1a1a" stroke-width="1.5"/>
<line x1="545.20" y1="429.20" x2="616.10" y2="429.20" stroke-width="1.45"/>
<polygon points="581.10,420.00 581.86,421.95 583.95,422.07 582.34,423.40 582.86,425.43 581.10,424.30 579.34,425.43 579.86,423.40 578.25,422.07 580.34,421.95" fill="#1a1a1a" stroke="none"/>
</g>
</svg>
</body></html>
